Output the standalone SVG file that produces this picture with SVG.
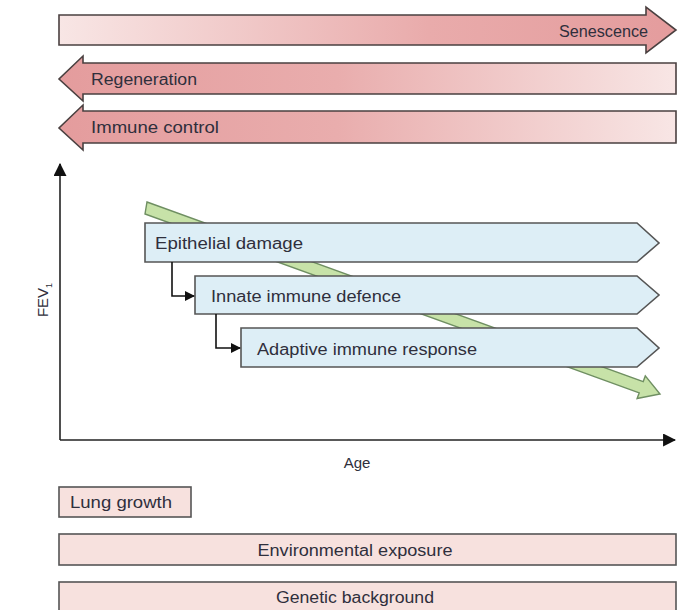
<svg xmlns="http://www.w3.org/2000/svg" width="687" height="610" viewBox="0 0 687 610">
<defs>
<linearGradient id="gR" x1="0" y1="0" x2="1" y2="0">
<stop offset="0" stop-color="#f8e6e5"/><stop offset="0.6" stop-color="#e9abab"/><stop offset="1" stop-color="#e49c9d"/>
</linearGradient>
<linearGradient id="gL" x1="0" y1="0" x2="1" y2="0">
<stop offset="0" stop-color="#e49c9d"/><stop offset="0.45" stop-color="#e9adad"/><stop offset="1" stop-color="#f8e6e5"/>
</linearGradient>
<marker id="ah" viewBox="0 0 10 10" refX="9" refY="5" markerWidth="10" markerHeight="10" markerUnits="userSpaceOnUse" orient="auto">
<path d="M0,0 L10,5 L0,10 z" fill="#111"/>
</marker>
<marker id="axh" viewBox="0 0 12 12" refX="11" refY="6" markerWidth="13" markerHeight="13" markerUnits="userSpaceOnUse" orient="auto">
<path d="M0,0 L12,6 L0,12 z" fill="#111"/>
</marker>
</defs>
<style>
text{font-family:"Liberation Sans",Arial,sans-serif;fill:#2f2f3c;}
.lbl{font-size:16px;}
.pink{stroke:#4a4040;stroke-width:1.6;}
.blue{fill:#ddeef6;stroke:#555;stroke-width:1.6;}
.box{fill:#f7e1de;stroke:#555;stroke-width:1.6;}
.axis{stroke:#222;stroke-width:1.6;fill:none;}
.conn{stroke:#111;stroke-width:1.6;fill:none;}
</style>
<rect width="687" height="610" fill="#fff"/>

<g id="senescence">
<polygon class="pink" fill="url(#gR)" points="59,15 646,15 646,7 676,30 646,53 646,45 59,45"/>
<text class="lbl" x="648" y="37" text-anchor="end" textLength="89" lengthAdjust="spacingAndGlyphs">Senescence</text>
</g>
<g id="regeneration">
<polygon class="pink" fill="url(#gL)" points="676,63 83,63 83,56 59,79 83,101 83,94 676,94"/>
<text class="lbl" x="91" y="85" textLength="106" lengthAdjust="spacingAndGlyphs">Regeneration</text>
</g>
<g id="immune-control">
<polygon class="pink" fill="url(#gL)" points="676,111 83,111 83,105 59,128 83,150 83,143 676,143"/>
<text class="lbl" x="91" y="133" textLength="128" lengthAdjust="spacingAndGlyphs">Immune control</text>
</g>

<g id="axes">
<line class="axis" x1="60" y1="440" x2="60" y2="164" marker-end="url(#axh)"/>
<line class="axis" x1="60" y1="440" x2="675" y2="440" marker-end="url(#axh)"/>
<text x="48" y="300" font-size="15" text-anchor="middle" transform="rotate(-90 48 300)">FEV<tspan font-size="9" dy="4">1</tspan></text>
<text x="357" y="468" font-size="15" text-anchor="middle">Age</text>
</g>

<g id="fev-trend">
<polygon fill="#c7e2a8" stroke="#6f8f62" stroke-width="1.4" points="147,202 643.2,381.6 645.3,375.9 660,394 637.1,398.5 639.2,392.8 145,214"/>
</g>

<g id="epithelial-damage">
<polygon class="blue" points="145,223 637,223 659,243 637,262 145,262"/>
<text class="lbl" x="155" y="249" textLength="148" lengthAdjust="spacingAndGlyphs">Epithelial damage</text>
</g>
<g id="innate-immune-defence">
<polygon class="blue" points="195,276 637,276 659,295 637,314 195,314"/>
<text class="lbl" x="211" y="302" textLength="190" lengthAdjust="spacingAndGlyphs">Innate immune defence</text>
</g>
<g id="adaptive-immune-response">
<polygon class="blue" points="241,328 637,328 659,348 637,367 241,367"/>
<text class="lbl" x="257" y="355" textLength="220" lengthAdjust="spacingAndGlyphs">Adaptive immune response</text>
</g>

<g id="connectors">
<polyline class="conn" points="172,262 172,296 194,296" marker-end="url(#ah)"/>
<polyline class="conn" points="216,314 216,348 240,348" marker-end="url(#ah)"/>
</g>

<g id="lung-growth">
<rect class="box" x="59" y="487" width="132" height="30"/>
<text class="lbl" x="70" y="508" textLength="102" lengthAdjust="spacingAndGlyphs">Lung growth</text>
</g>
<g id="environmental-exposure">
<rect class="box" x="59" y="534" width="617" height="31"/>
<text class="lbl" x="355" y="556" text-anchor="middle" textLength="195" lengthAdjust="spacingAndGlyphs">Environmental exposure</text>
</g>
<g id="genetic-background">
<rect class="box" x="59" y="582" width="617" height="35"/>
<text class="lbl" x="355" y="603" text-anchor="middle" textLength="158" lengthAdjust="spacingAndGlyphs">Genetic background</text>
</g>
</svg>
